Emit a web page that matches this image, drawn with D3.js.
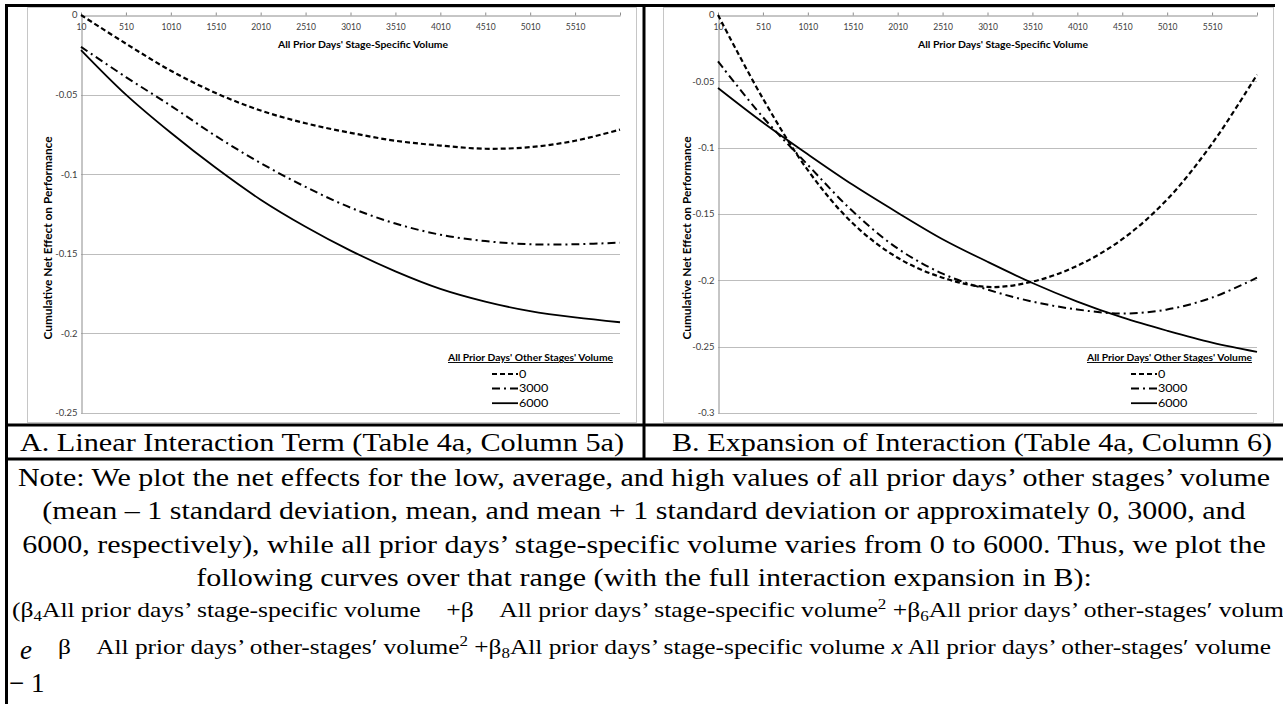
<!DOCTYPE html>
<html>
<head>
<meta charset="utf-8">
<script src="https://cdn.jsdelivr.net/npm/d3@7"></script>
<style>
  body { margin: 0; background: #fff; }
  svg { display: block; }
</style>
</head>
<body>
<svg id="fig" width="1283" height="704"></svg>
<script>
(function() {

  // stage-specific volume (x) at which the curves are read, same as the tick values
  const volumes = [10, 510, 1010, 1510, 2010, 2510, 3010, 3510, 4010, 4510, 5010, 5510, 6010];
  const xTickLabels = ['10', '510', '1010', '1510', '2010', '2510', '3010', '3510', '4010', '4510', '5010', '5510', ''];

  // other stages' volume levels (legend)
  const levels = ['0', '3000', '6000'];

  // panel A: linear interaction term
  const panelA_0    = [0, -0.018, -0.035, -0.049, -0.060, -0.068, -0.074, -0.079, -0.082, -0.084, -0.083, -0.079, -0.072];
  const panelA_3000 = [-0.020, -0.039, -0.057, -0.076, -0.093, -0.108, -0.121, -0.131, -0.138, -0.142, -0.144, -0.144, -0.143];
  const panelA_6000 = [-0.022, -0.050, -0.074, -0.096, -0.116, -0.133, -0.148, -0.161, -0.172, -0.180, -0.186, -0.190, -0.193];
  const yTicksA = [0, -0.05, -0.1, -0.15, -0.2, -0.25];

  // panel B: expansion of interaction
  const panelB_0    = [0, -0.063, -0.117, -0.157, -0.183, -0.198, -0.205, -0.201, -0.189, -0.169, -0.139, -0.097, -0.045];
  const panelB_3000 = [-0.035, -0.077, -0.113, -0.148, -0.176, -0.195, -0.207, -0.216, -0.222, -0.225, -0.222, -0.213, -0.198];
  const panelB_6000 = [-0.055, -0.081, -0.105, -0.128, -0.149, -0.169, -0.186, -0.202, -0.216, -0.228, -0.238, -0.247, -0.254];
  const yTicksB = [0, -0.05, -0.1, -0.15, -0.2, -0.25, -0.3];

  const xTitle = "All Prior Days' Stage-Specific Volume";
  const yTitle = 'Cumulative Net Effect on Performance';
  const legendTitle = "All Prior Days' Other Stages' Volume";

  const captions = ['A. Linear Interaction Term (Table 4a, Column 5a)', 'B. Expansion of Interaction (Table 4a, Column 6)'];
  const noteLines = [
    'Note: We plot the net effects for the low, average, and high values of all prior days\u2019 other stages\u2019 volume',
    '(mean \u2013 1 standard deviation, mean, and mean + 1 standard deviation or approximately 0, 3000, and',
    '6000, respectively), while all prior days\u2019 stage-specific volume varies from 0 to 6000. Thus, we plot the',
    'following curves over that range (with the full interaction expansion in B):'
  ];

  const chartFont = 'Lato, "Liberation Sans", Arial, sans-serif';
  const serif = '"Liberation Serif", "Times New Roman", serif';
  const lineStyles = [
    { dash: '5,3', width: 2.2 },
    { dash: '8,4,2,4', width: 2 },
    { dash: null, width: 1.8 }
  ];

  // the source figure is stretched sideways: widen glyphs by k
  function widen(sel, k) {
    sel.each(function() {
      const n = this.getComputedTextLength();
      d3.select(this).attr('textLength', n * k).attr('lengthAdjust', 'spacingAndGlyphs');
    });
  }
  function fitTo(sel, w) {
    sel.attr('textLength', w).attr('lengthAdjust', 'spacingAndGlyphs');
  }

  const svg = d3.select('#fig');

  const panels = [
    { frameL: 27, frameR: 636, axisL: 81, yMin: -0.25, yTicks: yTicksA, series: [panelA_0, panelA_3000, panelA_6000],
      xTitleX: 363, yTitleX: 48, legendX: 448 },
    { frameL: 663, frameR: 1273, axisL: 718, yMin: -0.3, yTicks: yTicksB, series: [panelB_0, panelB_3000, panelB_6000],
      xTitleX: 1003, yTitleX: 687, legendX: 1087 }
  ];

  const plotTop = 15, plotBottom = 413, plotW = 539;

  panels.forEach(function(p) {
    const g = svg.append('g');

    g.append('rect')
      .attr('x', p.frameL + 0.5).attr('y', 7.5)
      .attr('width', p.frameR - p.frameL).attr('height', 415)
      .attr('fill', 'none').attr('stroke', '#c6c6c6');

    const x = d3.scaleLinear().domain([volumes[0], volumes[volumes.length - 1]]).range([p.axisL, p.axisL + plotW]);
    const y = d3.scaleLinear().domain([0, p.yMin]).range([plotTop, plotBottom]);

    // horizontal gridlines
    g.selectAll('line.grid')
      .data(p.yTicks.slice(1))
      .enter()
      .append('line')
      .attr('class', 'grid')
      .attr('x1', p.axisL).attr('x2', p.axisL + plotW)
      .attr('y1', function(d) { return Math.round(y(d)) + 0.5; })
      .attr('y2', function(d) { return Math.round(y(d)) + 0.5; })
      .attr('stroke', '#bdbdbd').attr('stroke-width', 1);

    // y axis
    const yAxis = g.append('g')
      .attr('transform', 'translate(' + (p.axisL + 0.5) + ',0)')
      .call(d3.axisLeft(y).tickValues(p.yTicks).tickSize(0).tickPadding(4).tickFormat(function(d) { return String(d); }));
    yAxis.select('.domain').attr('stroke', '#8c8c8c');
    yAxis.selectAll('text').attr('font-family', chartFont).attr('font-size', 9).attr('fill', '#404040');
    widen(yAxis.selectAll('text'), 1.05);

    // x axis along the top, labels under the line
    const xAxis = g.append('g')
      .attr('transform', 'translate(0,' + (plotTop + 0.5) + ')')
      .call(d3.axisBottom(x).tickValues(volumes).tickSizeInner(-3).tickSizeOuter(0).tickPadding(8)
        .tickFormat(function(d, i) { return xTickLabels[i]; }));
    xAxis.select('.domain').attr('stroke', '#8c8c8c');
    xAxis.selectAll('line').attr('stroke', '#8c8c8c');
    xAxis.selectAll('text').attr('font-family', chartFont).attr('font-size', 8.5).attr('fill', '#404040');

    fitTo(g.append('text')
      .attr('x', p.xTitleX).attr('y', 48)
      .attr('text-anchor', 'middle')
      .attr('font-family', chartFont).attr('font-size', 9.5).attr('font-weight', 'bold')
      .text(xTitle), 170);

    fitTo(g.append('text')
      .attr('transform', 'translate(' + p.yTitleX + ',238) rotate(-90)')
      .attr('text-anchor', 'middle')
      .attr('dy', '0.35em')
      .attr('font-family', chartFont).attr('font-size', 11.5).attr('font-weight', 'bold')
      .text(yTitle), 203);

    const line = d3.line()
      .x(function(d, i) { return x(volumes[i]); })
      .y(function(d) { return y(d); })
      .curve(d3.curveCatmullRom.alpha(0.5));

    g.selectAll('path.curve')
      .data(p.series)
      .enter()
      .append('path')
      .attr('class', 'curve')
      .attr('d', line)
      .attr('fill', 'none')
      .attr('stroke', '#000')
      .attr('stroke-width', function(d, i) { return lineStyles[i].width; })
      .attr('stroke-dasharray', function(d, i) { return lineStyles[i].dash; });

    // legend
    const lg = g.append('g').attr('transform', 'translate(' + p.legendX + ',0)');
    fitTo(lg.append('text')
      .attr('x', 0).attr('y', 361)
      .attr('font-family', chartFont).attr('font-size', 9.5).attr('font-weight', 'bold')
      .attr('text-decoration', 'underline')
      .text(legendTitle), 165);
    const items = lg.selectAll('g.item')
      .data(levels)
      .enter()
      .append('g')
      .attr('class', 'item')
      .attr('transform', function(d, i) { return 'translate(44,' + (374 + i * 14.6) + ')'; });
    items.append('line')
      .attr('x1', 0).attr('x2', 26).attr('y1', 0).attr('y2', 0)
      .attr('stroke', '#000')
      .attr('stroke-width', function(d, i) { return lineStyles[i].width; })
      .attr('stroke-dasharray', function(d, i) { return lineStyles[i].dash; });
    const itemText = items.append('text')
      .attr('x', 27).attr('y', 0).attr('dy', '0.35em')
      .attr('font-family', chartFont).attr('font-size', 10.5)
      .text(function(d) { return d; });
    widen(itemText, 1.2);
  });

  // table rules
  const rules = [
    [5, 5.5, 1275, 5.5],
    [6.5, 4, 6.5, 704],
    [644, 4, 644, 460],
    [5, 425, 1283, 425],
    [5, 459, 1283, 459]
  ];
  svg.selectAll('line.rule')
    .data(rules)
    .enter()
    .append('line')
    .attr('class', 'rule')
    .attr('x1', function(d) { return d[0]; }).attr('y1', function(d) { return d[1]; })
    .attr('x2', function(d) { return d[2]; }).attr('y2', function(d) { return d[3]; })
    .attr('stroke', '#000').attr('stroke-width', 3);

  // panel captions
  const caps = svg.selectAll('text.caption')
    .data(captions)
    .enter()
    .append('text')
    .attr('class', 'caption')
    .attr('x', function(d, i) { return i === 0 ? 322 : 972; })
    .attr('y', 451)
    .attr('text-anchor', 'middle')
    .attr('font-family', serif).attr('font-size', 25)
    .text(function(d) { return d; });
  widen(caps, 1.21);

  // note
  const notes = svg.selectAll('text.note')
    .data(noteLines)
    .enter()
    .append('text')
    .attr('class', 'note')
    .attr('x', 644)
    .attr('y', function(d, i) { return 486 + i * 33.3; })
    .attr('text-anchor', 'middle')
    .attr('font-family', serif).attr('font-size', 25)
    .text(function(d) { return d; });
  widen(notes, 1.2);

  // formula lines
  const f1 = svg.append('text')
    .attr('x', 12).attr('y', 617)
    .attr('font-family', serif).attr('font-size', 21);
  f1.append('tspan').text('(\u03b2');
  f1.append('tspan').attr('font-size', 14).attr('dy', 4).text('4');
  f1.append('tspan').attr('dy', -4).text('All prior days\u2019 stage-specific volume \u2002 +\u03b2 \u2002 All prior days\u2019 stage-specific volume');
  f1.append('tspan').attr('font-size', 14).attr('dy', -8).text('2');
  f1.append('tspan').attr('dy', 8).text(' +\u03b2');
  f1.append('tspan').attr('font-size', 14).attr('dy', 4).text('6');
  f1.append('tspan').attr('dy', -4).text('All prior days\u2019 other-stages\u2032 volum');
  fitTo(f1, 1272);

  svg.append('text')
    .attr('x', 20).attr('y', 659)
    .attr('font-family', serif).attr('font-size', 27).attr('font-style', 'italic')
    .text('e');

  const f2 = svg.append('text')
    .attr('x', 58).attr('y', 654)
    .attr('font-family', serif).attr('font-size', 21);
  f2.append('tspan').text('\u03b2 \u2002 All prior days\u2019 other-stages\u2032 volume');
  f2.append('tspan').attr('font-size', 14).attr('dy', -8).text('2');
  f2.append('tspan').attr('dy', 8).text(' +\u03b2');
  f2.append('tspan').attr('font-size', 14).attr('dy', 4).text('8');
  f2.append('tspan').attr('dy', -4).text('All prior days\u2019 stage-specific volume ');
  f2.append('tspan').attr('font-style', 'italic').text('x');
  f2.append('tspan').text(' All prior days\u2019 other-stages\u2032 volume');
  fitTo(f2, 1213);

  svg.append('text')
    .attr('x', 9).attr('y', 692)
    .attr('font-family', serif).attr('font-size', 27)
    .text('\u2212 1');
})();
</script>
</body>
</html>
